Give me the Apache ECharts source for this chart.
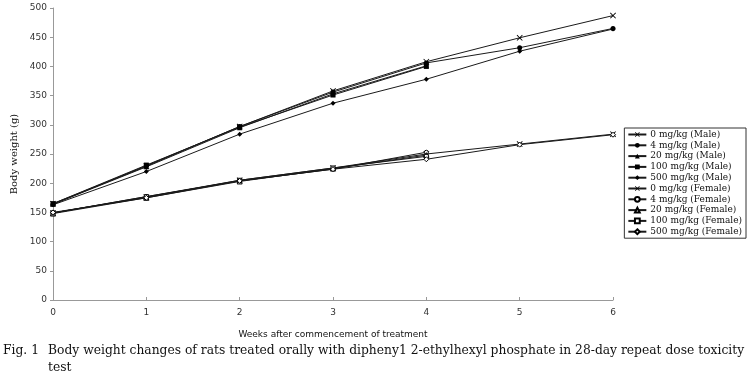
<!DOCTYPE html>
<html>
<head>
<meta charset="utf-8">
<script src="https://cdn.jsdelivr.net/npm/echarts@6/dist/echarts.min.js"></script>
<style>html,body{margin:0;padding:0;background:#fff}#c{width:750px;height:392px}</style>
</head>
<body>
<div id="c"></div>
<script>
const weeks = [0, 1, 2, 3, 4, 5, 6];
const yTicks = [0, 50, 100, 150, 200, 250, 300, 350, 400, 450, 500];
const male0   = [165, 229, 297, 358, 408, 449, 487];
const male4   = [164, 230, 297, 356, 406, 432, 465];
const male20  = [164, 228, 295, 353, 401];
const male100 = [165, 231, 296, 351, 400];
const male500 = [163, 220, 284, 337, 378, 426, 464];
const fem0    = [149, 176, 205, 226, 250, 267, 284];
const fem4    = [149, 177, 204, 224, 253];
const fem20   = [148, 175, 203, 225, 248];
const fem100  = [149, 177, 205, 226, 246];
const fem500  = [150, 175, 204, 224, 241, 266, 283];
const seriesNames = ['0 mg/kg (Male)', '4 mg/kg (Male)', '20 mg/kg (Male)', '100 mg/kg (Male)', '500 mg/kg (Male)',
  '0 mg/kg (Female)', '4 mg/kg (Female)', '20 mg/kg (Female)', '100 mg/kg (Female)', '500 mg/kg (Female)'];
const seriesData = [male0, male4, male20, male100, male500, fem0, fem4, fem20, fem100, fem500];
const caption1 = 'Fig. 1';
const caption2 = 'Body weight changes of rats treated orally with dipheny1 2-ethylhexyl phosphate in 28-day repeat dose toxicity';
const caption3 = 'test';

const CROSS = 'path://M0,1L1,0L5,4L9,0L10,1L6,5L10,9L9,10L5,6L1,10L0,9L4,5Z';
const markers = [
  {s: CROSS, z: 6, fill: true},
  {s: 'circle', z: 5, fill: true},
  {s: 'triangle', z: 5, fill: true},
  {s: 'rect', z: 5, fill: true},
  {s: 'diamond', z: 5, fill: true},
  {s: CROSS, z: 6, fill: true},
  {s: 'circle', z: 4, fill: false},
  {s: 'triangle', z: 5, fill: false},
  {s: 'rect', z: 4, fill: false},
  {s: 'diamond', z: 5, fill: false}
];

const series = seriesNames.map((name, i) => ({
  name: name,
  type: 'line',
  data: seriesData[i].map((v, k) => [weeks[k], v]),
  symbol: markers[i].s,
  symbolSize: markers[i].z,
  showSymbol: true,
  lineStyle: {color: '#1a1a1a', width: 1},
  itemStyle: markers[i].fill ? {color: '#000', borderColor: '#000', borderWidth: 0}
                             : {color: '#fff', borderColor: '#000', borderWidth: 1},
  emphasis: {disabled: true},
  animation: false
}));

const chart = echarts.init(document.getElementById('c'), null, {renderer: 'canvas'});
chart.setOption({
  animation: false,
  backgroundColor: '#fff',
  grid: {left: 53, right: 137, top: 8, bottom: 92},
  xAxis: {
    type: 'value', min: 0, max: 6, interval: 1,
    name: 'Weeks after commencement of treatment',
    nameLocation: 'middle', nameGap: 30,
    nameTextStyle: {fontFamily: 'DejaVu Sans', fontSize: 9, color: '#111'},
    axisLine: {lineStyle: {color: '#999', width: 1}},
    axisTick: {show: true, inside: true, length: 3, lineStyle: {color: '#999'}},
    axisLabel: {fontFamily: 'DejaVu Sans', fontSize: 9, color: '#333', margin: 8},
    splitLine: {show: false}
  },
  yAxis: {
    type: 'value', min: 0, max: 500, interval: 50,
    name: 'Body weight (g)', nameLocation: 'middle', nameGap: 34,
    nameTextStyle: {fontFamily: 'DejaVu Serif', fontSize: 10, color: '#111'},
    axisLine: {show: true, lineStyle: {color: '#999', width: 1}},
    axisTick: {show: true, length: 3, lineStyle: {color: '#999'}},
    axisLabel: {fontFamily: 'DejaVu Sans', fontSize: 9, color: '#333', margin: 6,
      formatter: v => yTicks.includes(v) ? String(v) : ''},
    splitLine: {show: false}
  },
  legend: {
    orient: 'vertical', right: 4, top: 128,
    data: seriesNames,
    backgroundColor: '#fff',
    borderColor: '#333', borderWidth: 1,
    padding: [2, 4, 2, 3],
    itemGap: 1.8, itemWidth: 18, itemHeight: 6,
    textStyle: {fontFamily: 'DejaVu Serif', fontSize: 9, color: '#111', padding: [1, 0, 0, -1]},
    selectedMode: false
  },
  graphic: [
    {type: 'text', left: 3, top: 345, style: {text: caption1, font: '12.3px "DejaVu Serif"', fill: '#111'}},
    {type: 'text', left: 48, top: 345, style: {text: caption2, font: '12.3px "DejaVu Serif"', fill: '#111'}},
    {type: 'text', left: 48, top: 362, style: {text: caption3, font: '12.3px "DejaVu Serif"', fill: '#111'}}
  ],
  series: series
});
</script>
</body>
</html>
